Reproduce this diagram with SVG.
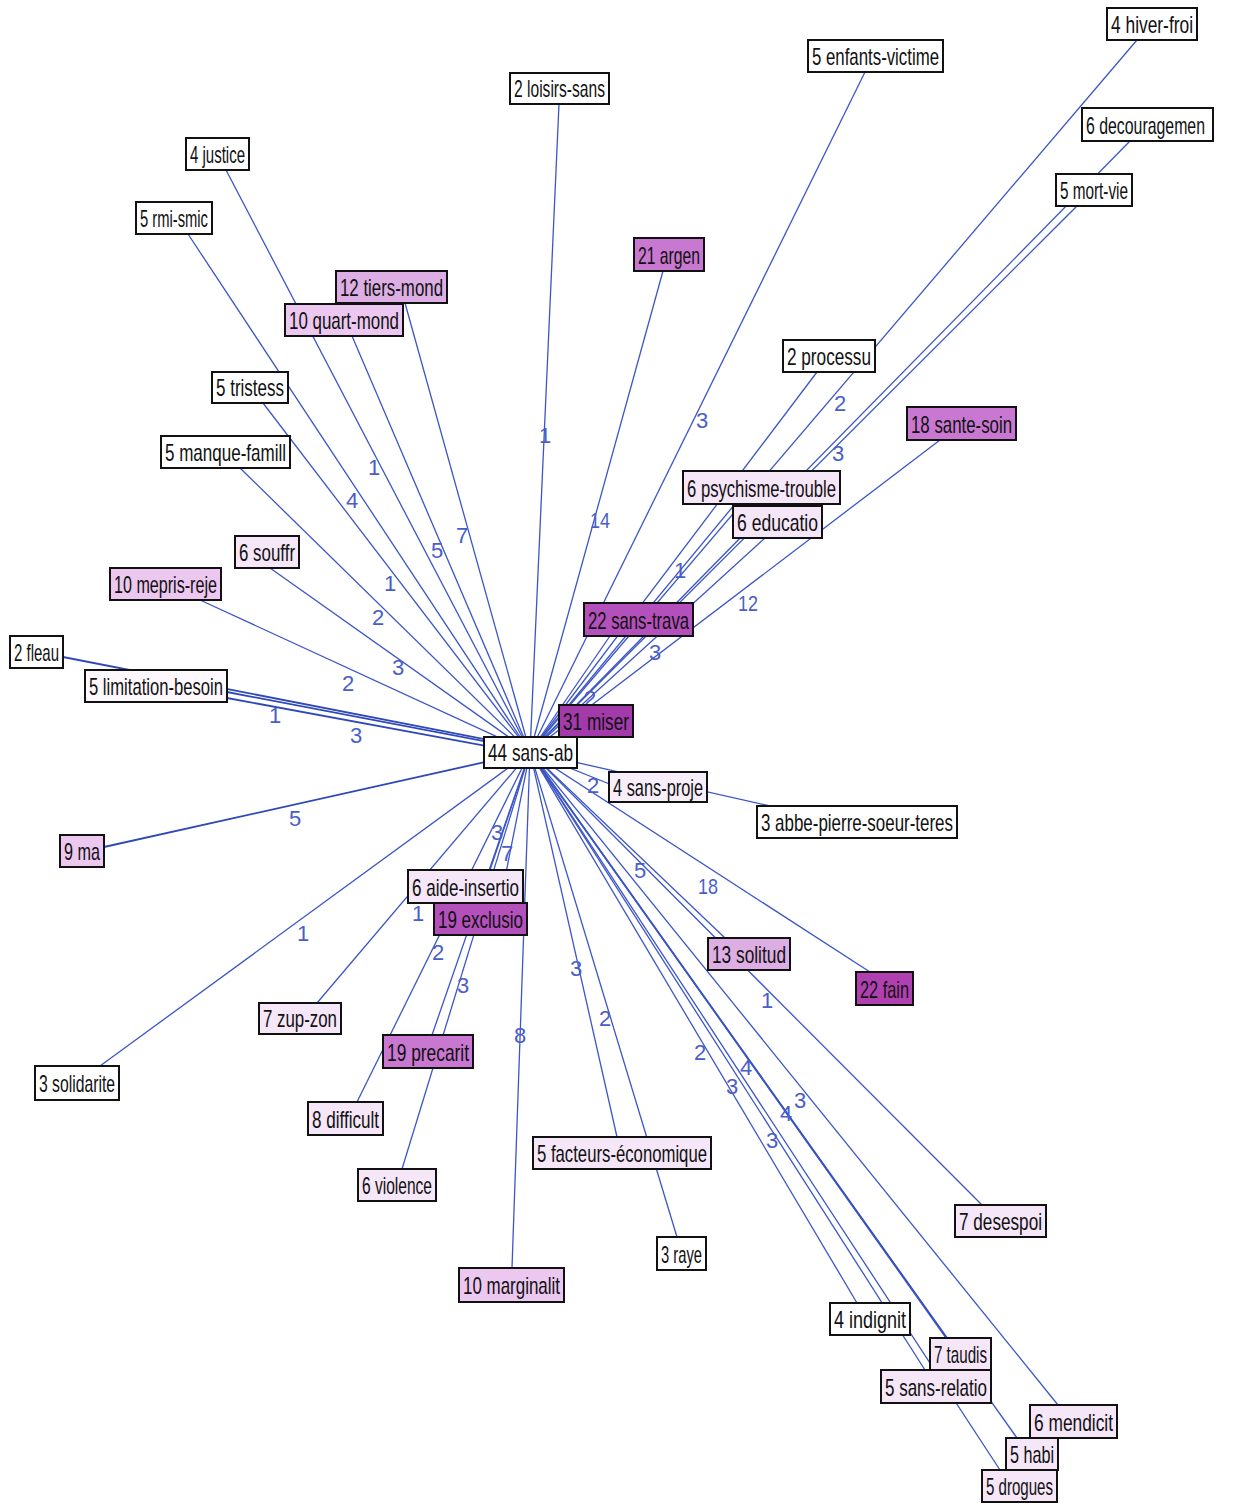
<svg xmlns="http://www.w3.org/2000/svg" width="1233" height="1505" viewBox="0 0 1233 1505">
<style>
.bg{fill:#ffffff}
.e{stroke:#3c56c6;stroke-width:1.3;fill:none}
.eb{stroke:#2f48b8;stroke-width:1.8;fill:none}
.lb{font-family:"Liberation Sans",Arial,sans-serif;font-size:22px;fill:#4a5ec8;text-anchor:middle}
.box{stroke:#111;stroke-width:2}
.t{font-family:"Liberation Sans",Arial,sans-serif;font-size:24px;fill:#111}
.w{fill:#ffffff}
.p0{fill:#f5e6f8}
.p1{fill:#ecc8f0}
.p2{fill:#dcaee4}
.p3{fill:#c878d0}
.p4{fill:#b450bc}
.p5{fill:#a23aaa}
</style>
<rect class="bg" x="0" y="0" width="1233" height="1505"/>
<g id="connectors">
<line class="e" x1="1137" y1="40" x2="530" y2="752"/>
<line class="e" x1="865" y1="72" x2="530" y2="752"/>
<line class="e" x1="559" y1="104" x2="530" y2="752"/>
<line class="e" x1="1130" y1="141" x2="530" y2="752"/>
<line class="e" x1="1077" y1="206" x2="530" y2="752"/>
<line class="e" x1="226" y1="170" x2="530" y2="752"/>
<line class="e" x1="188" y1="234" x2="530" y2="752"/>
<line class="e" x1="663" y1="271" x2="530" y2="752"/>
<line class="e" x1="405" y1="303" x2="530" y2="752"/>
<line class="e" x1="352" y1="336" x2="530" y2="752"/>
<line class="e" x1="817" y1="372" x2="530" y2="752"/>
<line class="e" x1="263" y1="403" x2="530" y2="752"/>
<line class="e" x1="940" y1="440" x2="530" y2="752"/>
<line class="e" x1="240" y1="468" x2="530" y2="752"/>
<line class="e" x1="735" y1="504" x2="530" y2="752"/>
<line class="e" x1="765" y1="538" x2="530" y2="752"/>
<line class="e" x1="270" y1="568" x2="530" y2="752"/>
<line class="e" x1="200" y1="600" x2="530" y2="752"/>
<line class="e" x1="610" y1="636" x2="530" y2="752"/>
<line class="eb" x1="63" y1="657" x2="530" y2="748"/>
<line class="eb" x1="227" y1="692" x2="530" y2="750"/>
<line class="eb" x1="227" y1="698" x2="530" y2="754"/>
<line class="eb" x1="104" y1="847" x2="530" y2="752"/>
<line class="e" x1="612" y1="785" x2="530" y2="752"/>
<line class="e" x1="770" y1="806" x2="530" y2="752"/>
<line class="e" x1="870" y1="972" x2="530" y2="752"/>
<line class="e" x1="725" y1="938" x2="530" y2="752"/>
<line class="e" x1="982" y1="1205" x2="530" y2="752"/>
<line class="e" x1="1058" y1="1405" x2="530" y2="752"/>
<line class="eb" x1="947" y1="1338" x2="530" y2="752"/>
<line class="e" x1="925" y1="1370" x2="530" y2="752"/>
<line class="e" x1="1017" y1="1438" x2="530" y2="752"/>
<line class="e" x1="1000" y1="1470" x2="530" y2="752"/>
<line class="e" x1="857" y1="1303" x2="530" y2="752"/>
<line class="e" x1="617" y1="1137" x2="530" y2="752"/>
<line class="e" x1="677" y1="1237" x2="530" y2="752"/>
<line class="e" x1="512" y1="1268" x2="530" y2="752"/>
<line class="e" x1="402" y1="1169" x2="530" y2="752"/>
<line class="e" x1="432" y1="1035" x2="530" y2="752"/>
<line class="e" x1="357" y1="1102" x2="530" y2="752"/>
<line class="e" x1="500" y1="903" x2="530" y2="752"/>
<line class="e" x1="490" y1="870" x2="530" y2="752"/>
<line class="e" x1="317" y1="1003" x2="530" y2="752"/>
<line class="e" x1="100" y1="1066" x2="530" y2="752"/>
<g id="edge-labels">
<text class="lb" x="840" y="411">2</text>
<text class="lb" x="702" y="428">3</text>
<text class="lb" x="545" y="443">1</text>
<text class="lb" x="838" y="461">3</text>
<text class="lb" x="600" y="528" textLength="20" lengthAdjust="spacingAndGlyphs">14</text>
<text class="lb" x="748" y="611" textLength="20" lengthAdjust="spacingAndGlyphs">12</text>
<text class="lb" x="680" y="578">1</text>
<text class="lb" x="655" y="660">3</text>
<text class="lb" x="590" y="706">2</text>
<text class="lb" x="374" y="475">1</text>
<text class="lb" x="352" y="508">4</text>
<text class="lb" x="462" y="543">7</text>
<text class="lb" x="437" y="558">5</text>
<text class="lb" x="390" y="591">1</text>
<text class="lb" x="378" y="625">2</text>
<text class="lb" x="398" y="675">3</text>
<text class="lb" x="348" y="691">2</text>
<text class="lb" x="275" y="723">1</text>
<text class="lb" x="356" y="743">3</text>
<text class="lb" x="295" y="826">5</text>
<text class="lb" x="593" y="793">2</text>
<text class="lb" x="640" y="878">5</text>
<text class="lb" x="708" y="894" textLength="20" lengthAdjust="spacingAndGlyphs">18</text>
<text class="lb" x="767" y="1008">1</text>
<text class="lb" x="800" y="1108">3</text>
<text class="lb" x="700" y="1060">2</text>
<text class="lb" x="746" y="1075">4</text>
<text class="lb" x="732" y="1094">3</text>
<text class="lb" x="786" y="1121">4</text>
<text class="lb" x="772" y="1148">3</text>
<text class="lb" x="497" y="840">3</text>
<text class="lb" x="507" y="861">7</text>
<text class="lb" x="418" y="921">1</text>
<text class="lb" x="438" y="960">2</text>
<text class="lb" x="463" y="993">3</text>
<text class="lb" x="520" y="1043">8</text>
<text class="lb" x="576" y="976">3</text>
<text class="lb" x="605" y="1026">2</text>
<text class="lb" x="303" y="941">1</text>
</g>
</g>
<g id="nodes">
<g id="n-hiver"><rect class="box w" x="1107" y="8" width="90" height="32"/><text class="t" x="1111" y="33" textLength="82" lengthAdjust="spacingAndGlyphs">4 hiver-froi</text></g>
<g id="n-enfants"><rect class="box w" x="808" y="40" width="135" height="32"/><text class="t" x="812" y="65" textLength="127" lengthAdjust="spacingAndGlyphs">5 enfants-victime</text></g>
<g id="n-loisirs"><rect class="box w" x="510" y="73" width="99" height="31"/><text class="t" x="514" y="97" textLength="91" lengthAdjust="spacingAndGlyphs">2 loisirs-sans</text></g>
<g id="n-decouragement"><rect class="box w" x="1082" y="108" width="131" height="33"/><text class="t" x="1086" y="134" textLength="119" lengthAdjust="spacingAndGlyphs">6 decouragemen</text></g>
<g id="n-justice"><rect class="box w" x="186" y="138" width="63" height="32"/><text class="t" x="190" y="163" textLength="55" lengthAdjust="spacingAndGlyphs">4 justice</text></g>
<g id="n-mortvie"><rect class="box w" x="1056" y="174" width="76" height="32"/><text class="t" x="1060" y="199" textLength="68" lengthAdjust="spacingAndGlyphs">5 mort-vie</text></g>
<g id="n-rmismic"><rect class="box w" x="136" y="202" width="76" height="32"/><text class="t" x="140" y="227" textLength="68" lengthAdjust="spacingAndGlyphs">5 rmi-smic</text></g>
<g id="n-argent"><rect class="box p3" x="634" y="238" width="70" height="33"/><text class="t" x="638" y="264" textLength="62" lengthAdjust="spacingAndGlyphs">21 argen</text></g>
<g id="n-tiersmonde"><rect class="box p2" x="336" y="271" width="111" height="32"/><text class="t" x="340" y="296" textLength="103" lengthAdjust="spacingAndGlyphs">12 tiers-mond</text></g>
<g id="n-quartmonde"><rect class="box p1" x="285" y="304" width="118" height="32"/><text class="t" x="289" y="329" textLength="110" lengthAdjust="spacingAndGlyphs">10 quart-mond</text></g>
<g id="n-processus"><rect class="box w" x="783" y="340" width="92" height="32"/><text class="t" x="787" y="365" textLength="84" lengthAdjust="spacingAndGlyphs">2 processu</text></g>
<g id="n-tristesse"><rect class="box w" x="212" y="372" width="76" height="31"/><text class="t" x="216" y="396" textLength="68" lengthAdjust="spacingAndGlyphs">5 tristess</text></g>
<g id="n-santesoin"><rect class="box p3" x="907" y="407" width="109" height="33"/><text class="t" x="911" y="433" textLength="101" lengthAdjust="spacingAndGlyphs">18 sante-soin</text></g>
<g id="n-manquefamille"><rect class="box w" x="161" y="436" width="129" height="32"/><text class="t" x="165" y="461" textLength="121" lengthAdjust="spacingAndGlyphs">5 manque-famill</text></g>
<g id="n-psychisme"><rect class="box p0" x="683" y="471" width="157" height="33"/><text class="t" x="687" y="497" textLength="149" lengthAdjust="spacingAndGlyphs">6 psychisme-trouble</text></g>
<g id="n-education"><rect class="box p0" x="733" y="506" width="89" height="32"/><text class="t" x="737" y="531" textLength="81" lengthAdjust="spacingAndGlyphs">6 educatio</text></g>
<g id="n-souffrance"><rect class="box p0" x="235" y="536" width="64" height="32"/><text class="t" x="239" y="561" textLength="56" lengthAdjust="spacingAndGlyphs">6 souffr</text></g>
<g id="n-mepris"><rect class="box p1" x="110" y="568" width="111" height="32"/><text class="t" x="114" y="593" textLength="103" lengthAdjust="spacingAndGlyphs">10 mepris-reje</text></g>
<g id="n-sanstravail"><rect class="box p4" x="584" y="603" width="109" height="33"/><text class="t" x="588" y="629" textLength="101" lengthAdjust="spacingAndGlyphs">22 sans-trava</text></g>
<g id="n-fleau"><rect class="box w" x="10" y="636" width="53" height="32"/><text class="t" x="14" y="661" textLength="45" lengthAdjust="spacingAndGlyphs">2 fleau</text></g>
<g id="n-limitation"><rect class="box" style="fill:#fdf8fe" x="85" y="670" width="142" height="32"/><text class="t" x="89" y="695" textLength="134" lengthAdjust="spacingAndGlyphs">5 limitation-besoin</text></g>
<g id="n-misere"><rect class="box p5" x="559" y="705" width="74" height="32"/><text class="t" x="563" y="730" textLength="66" lengthAdjust="spacingAndGlyphs">31 miser</text></g>
<g id="n-sansabri"><rect class="box w" x="484" y="737" width="93" height="31"/><text class="t" x="488" y="761" textLength="85" lengthAdjust="spacingAndGlyphs">44 sans-ab</text></g>
<g id="n-sansprojet"><rect class="box" style="fill:#f8eefa" x="609" y="772" width="98" height="30"/><text class="t" x="613" y="796" textLength="90" lengthAdjust="spacingAndGlyphs">4 sans-proje</text></g>
<g id="n-abbepierre"><rect class="box w" x="757" y="806" width="200" height="32"/><text class="t" x="761" y="831" textLength="192" lengthAdjust="spacingAndGlyphs">3 abbe-pierre-soeur-teres</text></g>
<g id="n-ma"><rect class="box p1" x="60" y="835" width="44" height="32"/><text class="t" x="64" y="860" textLength="36" lengthAdjust="spacingAndGlyphs">9 ma</text></g>
<g id="n-aideinsertion"><rect class="box p0" x="408" y="870" width="115" height="33"/><text class="t" x="412" y="896" textLength="107" lengthAdjust="spacingAndGlyphs">6 aide-insertio</text></g>
<g id="n-exclusion"><rect class="box p4" x="434" y="903" width="93" height="32"/><text class="t" x="438" y="928" textLength="85" lengthAdjust="spacingAndGlyphs">19 exclusio</text></g>
<g id="n-solitude"><rect class="box p2" x="708" y="938" width="82" height="32"/><text class="t" x="712" y="963" textLength="74" lengthAdjust="spacingAndGlyphs">13 solitud</text></g>
<g id="n-faim"><rect class="box" style="fill:#b040b0" x="856" y="972" width="57" height="33"/><text class="t" x="860" y="998" textLength="49" lengthAdjust="spacingAndGlyphs">22 fain</text></g>
<g id="n-zupzone"><rect class="box p0" x="259" y="1003" width="82" height="31"/><text class="t" x="263" y="1027" textLength="74" lengthAdjust="spacingAndGlyphs">7 zup-zon</text></g>
<g id="n-precarite"><rect class="box p3" x="383" y="1035" width="90" height="33"/><text class="t" x="387" y="1061" textLength="82" lengthAdjust="spacingAndGlyphs">19 precarit</text></g>
<g id="n-solidarite"><rect class="box w" x="35" y="1066" width="84" height="34"/><text class="t" x="39" y="1092" textLength="76" lengthAdjust="spacingAndGlyphs">3 solidarite</text></g>
<g id="n-difficulte"><rect class="box p0" x="308" y="1102" width="75" height="33"/><text class="t" x="312" y="1128" textLength="67" lengthAdjust="spacingAndGlyphs">8 difficult</text></g>
<g id="n-facteurs"><rect class="box p0" x="533" y="1137" width="178" height="32"/><text class="t" x="537" y="1162" textLength="170" lengthAdjust="spacingAndGlyphs">5 facteurs-économique</text></g>
<g id="n-violence"><rect class="box p0" x="358" y="1169" width="78" height="32"/><text class="t" x="362" y="1194" textLength="70" lengthAdjust="spacingAndGlyphs">6 violence</text></g>
<g id="n-desespoir"><rect class="box p0" x="955" y="1205" width="91" height="32"/><text class="t" x="959" y="1230" textLength="83" lengthAdjust="spacingAndGlyphs">7 desespoi</text></g>
<g id="n-raye"><rect class="box w" x="657" y="1237" width="49" height="33"/><text class="t" x="661" y="1263" textLength="41" lengthAdjust="spacingAndGlyphs">3 raye</text></g>
<g id="n-marginalite"><rect class="box p1" x="459" y="1268" width="105" height="34"/><text class="t" x="463" y="1294" textLength="97" lengthAdjust="spacingAndGlyphs">10 marginalit</text></g>
<g id="n-indignite"><rect class="box w" x="830" y="1303" width="80" height="32"/><text class="t" x="834" y="1328" textLength="72" lengthAdjust="spacingAndGlyphs">4 indignit</text></g>
<g id="n-taudis"><rect class="box p0" x="930" y="1338" width="61" height="32"/><text class="t" x="934" y="1363" textLength="53" lengthAdjust="spacingAndGlyphs">7 taudis</text></g>
<g id="n-sansrelation"><rect class="box p0" x="881" y="1370" width="110" height="33"/><text class="t" x="885" y="1396" textLength="102" lengthAdjust="spacingAndGlyphs">5 sans-relatio</text></g>
<g id="n-mendicite"><rect class="box p0" x="1030" y="1405" width="87" height="33"/><text class="t" x="1034" y="1431" textLength="79" lengthAdjust="spacingAndGlyphs">6 mendicit</text></g>
<g id="n-habitat"><rect class="box p0" x="1006" y="1438" width="52" height="32"/><text class="t" x="1010" y="1463" textLength="44" lengthAdjust="spacingAndGlyphs">5 habi</text></g>
<g id="n-drogues"><rect class="box p0" x="982" y="1470" width="75" height="32"/><text class="t" x="986" y="1495" textLength="67" lengthAdjust="spacingAndGlyphs">5 drogues</text></g>
</g>
</svg>
